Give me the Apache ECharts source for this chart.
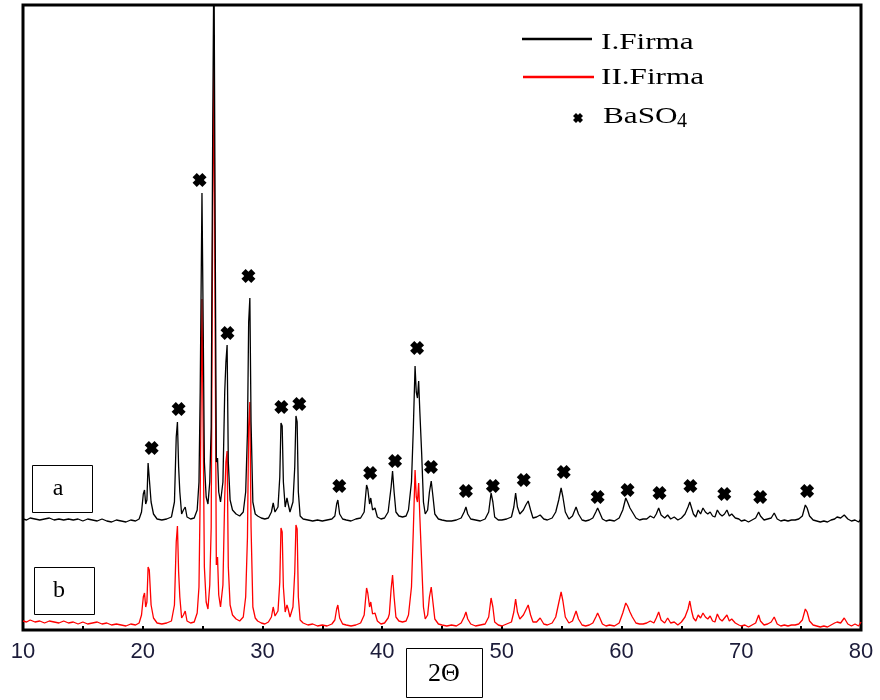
<!DOCTYPE html>
<html>
<head>
<meta charset="utf-8">
<script src="https://cdn.jsdelivr.net/npm/echarts@6/dist/echarts.min.js"></script>
<style>
  html, body { margin: 0; padding: 0; background: #fff; }
  #chart { width: 880px; height: 700px; }
</style>
</head>
<body>
<div id="chart"></div>
<script>
// Diffraction angle (2θ, degrees)
const twoTheta = [
  10.0,10.3,10.6,11.0,11.4,11.8,12.2,12.6,13.0,13.4,13.8,14.2,14.6,15.0,15.4,15.8,16.2,16.6,17.0,17.4,17.8,18.2,18.6,19.0,19.4,19.7,19.9,
  20.05,20.15,20.25,20.35,20.45,20.55,20.7,20.9,21.2,21.6,22.0,22.4,22.65,22.8,22.9,23.0,23.1,23.25,23.4,23.55,23.7,24.0,24.3,24.55,24.7,24.8,24.95,
  25.05,25.15,25.3,25.45,25.6,25.72,25.85,25.95,26.05,26.15,26.25,26.35,26.5,26.7,26.85,26.95,27.05,27.15,27.3,27.5,27.8,28.1,28.4,28.6,28.75,28.85,28.95,
  29.05,29.2,29.4,29.6,29.9,30.2,30.5,30.75,30.9,31.05,31.3,31.45,31.55,31.65,31.75,31.9,32.05,32.15,32.3,32.55,32.7,32.8,32.9,33.0,33.15,33.4,33.8,
  34.2,34.6,35.0,35.4,35.8,36.05,36.2,36.3,36.45,36.7,37.0,37.4,37.8,38.2,38.5,38.7,38.8,38.95,39.05,39.2,39.4,39.6,39.9,40.2,40.5,40.6,40.75,40.87,
  41.0,41.15,41.4,41.7,42.0,42.2,42.45,42.6,42.75,42.85,42.95,43.05,43.15,43.3,43.45,43.6,43.8,43.95,44.1,44.25,44.4,44.7,45.0,45.4,45.8,46.2,46.6,46.85,
  47.0,47.15,47.4,47.8,48.2,48.6,48.9,49.1,49.25,49.4,49.7,50.0,50.4,50.8,51.0,51.15,51.3,51.5,51.8,52.0,52.2,52.4,52.6,52.9,53.2,53.5,53.8,
  54.2,54.5,54.75,54.95,55.1,55.3,55.6,55.9,56.2,56.4,56.7,57.0,57.3,57.6,57.85,58.0,58.15,58.4,58.7,59.0,59.4,59.8,60.1,60.35,60.5,60.7,60.9,
  61.2,61.5,61.8,62.1,62.4,62.7,62.9,63.1,63.3,63.6,63.85,64.1,64.4,64.7,65.0,65.3,65.55,65.7,65.85,66.0,66.2,66.4,66.6,66.8,67.0,67.2,67.4,67.6,67.8,
  68.0,68.2,68.4,68.6,68.8,69.0,69.2,69.5,69.8,70.0,70.3,70.6,70.9,71.2,71.45,71.6,71.9,72.2,72.5,72.75,73.0,73.3,73.6,73.9,74.2,74.5,74.8,
  75.1,75.35,75.5,75.7,76.0,76.3,76.6,76.9,77.2,77.5,77.8,78.0,78.3,78.6,78.9,79.2,79.5,79.8,80.0
];

// Intensity (a.u.) of sample a, I.Firma
const intensityI = [
  3,2,4,3,2,3,4,2,3,2,3,2,3,1,3,2,1,3,1,0,2,1,0,2,1,3,10,
  28,32,18,22,59,58,20,8,3,2,3,5,20,85,100,55,30,8,12,15,5,3,4,12,40,129,329,
  200,60,25,18,40,95,400,575,300,60,64,30,20,40,130,160,177,60,22,12,8,6,10,30,90,200,224,
  100,20,8,6,4,3,4,10,19,10,15,45,99,96,40,15,24,18,10,20,55,106,100,30,6,3,2,
  1,2,1,2,3,6,18,22,8,3,2,1,3,4,10,37,33,18,24,12,14,5,3,4,10,12,35,51,
  30,10,6,5,6,12,40,92,156,130,124,141,110,69,20,8,12,30,41,25,8,3,2,1,1,2,4,10,
  15,8,3,2,1,3,10,29,20,5,2,2,3,5,15,29,15,8,12,17,21,12,4,5,7,3,2,
  4,10,22,34,25,10,3,6,15,8,2,1,2,4,10,14,10,3,1,2,1,4,12,24,20,14,10,
  4,2,3,3,6,4,8,14,7,4,7,3,5,2,4,8,15,20,14,8,5,12,8,14,10,8,10,6,5,
  12,8,6,8,12,6,8,4,3,1,2,0,2,4,10,6,2,3,4,9,3,1,2,1,2,2,3,
  6,17,14,6,2,1,0,1,0,2,3,5,4,7,3,1,2,0,3
];

// Intensity (a.u.) of sample b, II.Firma
const intensityII = [
  6,5,7,5,6,4,6,5,4,6,4,5,3,5,3,4,5,3,4,2,3,2,1,3,2,4,12,
  30,34,20,25,60,57,22,9,4,3,4,6,22,85,101,55,30,9,12,16,6,4,5,14,40,130,328,
  200,60,25,18,42,100,420,569,300,62,70,32,20,42,130,165,176,60,22,12,8,6,10,30,90,200,225,
  100,20,9,6,4,3,5,10,20,11,16,45,99,95,40,15,22,18,10,20,55,102,98,30,7,4,2,
  3,1,2,1,3,7,18,22,9,3,2,1,2,4,12,39,34,20,25,13,14,6,3,4,9,13,38,52,
  30,10,6,5,6,12,40,95,157,130,125,144,110,65,20,8,12,30,40,24,8,3,2,1,2,1,4,10,
  15,8,3,1,2,3,10,29,20,5,2,1,3,5,15,28,15,8,12,17,22,12,5,5,9,3,2,
  4,10,24,35,26,10,4,6,16,8,2,1,2,4,10,14,10,3,1,2,1,4,14,24,21,15,10,
  4,3,3,4,6,4,9,15,7,4,9,4,5,2,5,10,18,26,16,9,6,12,9,14,10,8,11,6,5,
  13,8,6,9,12,6,8,4,2,1,2,0,2,4,12,6,2,3,5,10,3,1,2,1,2,2,3,
  7,18,15,6,2,1,0,1,0,2,4,5,4,9,3,1,3,1,5
];

// BaSO4 reflections: angle and height of the marker placed above each peak
const baso4Theta = [20.75,23.0,24.75,27.08,28.83,31.58,33.08,36.42,39.0,41.08,42.92,44.08,47.0,49.25,51.83,55.17,58.0,60.5,63.17,65.75,68.58,71.58,75.5];
const baso4Level = [182,221,450,297,354,223,226,144,157,169,282,163,139,144,150,158,133,140,137,144,136,133,139];

// Axis ticks (labels every 10°)
const xTicks = [10, 20, 30, 40, 50, 60, 70, 80];

// Vertical stacking offsets for the two patterns
const offsetI = 108;
const offsetII = 3;

// heavy cross used for the BaSO4 reflections
const crossPath = 'path://M0,3 L3,0 L5,2 L7,0 L10,3 L8,5 L10,7 L7,10 L5,8 L3,10 L0,7 L2,5 Z';
const crossPoints = [[0,3],[3,0],[5,2],[7,0],[10,3],[8,5],[10,7],[7,10],[5,8],[3,10],[0,7],[2,5]];

const seriesI = twoTheta.map((t, i) => [t, intensityI[i] + offsetI]);
const seriesII = twoTheta.map((t, i) => [t, intensityII[i] + offsetII]);
const markers = baso4Theta.map((t, i) => [t, baso4Level[i]]);

const serif = '"Liberation Serif", "Times New Roman", serif';

const chart = echarts.init(document.getElementById('chart'), null, { renderer: 'canvas' });
chart.setOption({
  animation: false,
  backgroundColor: '#fff',
  grid: {
    left: 23, right: 19, top: 5, bottom: 70,
    show: true, borderColor: '#000', borderWidth: 3, backgroundColor: 'transparent'
  },
  xAxis: {
    type: 'value', min: 10, max: 80, interval: 5,
    axisLine: { show: false },
    axisTick: { show: true, inside: true, length: 4, lineStyle: { color: '#000', width: 2 } },
    axisLabel: {
      formatter: v => (xTicks.indexOf(v) >= 0 ? String(v) : ''),
      fontSize: 22, fontFamily: '"Liberation Sans", Arial, sans-serif',
      color: '#1c1c3a', margin: 11
    },
    splitLine: { show: false }
  },
  yAxis: { type: 'value', min: 0, max: 625, show: false },
  series: [
    {
      name: 'II.Firma', type: 'line', data: seriesII, showSymbol: false, silent: true,
      lineStyle: { color: '#ff0000', width: 1.3 }, z: 2
    },
    {
      name: 'I.Firma', type: 'line', data: seriesI, showSymbol: false, silent: true,
      lineStyle: { color: '#000000', width: 1.3 }, z: 3
    },
    {
      name: 'BaSO4', type: 'scatter', data: markers, symbol: crossPath, symbolSize: 14,
      itemStyle: { color: '#000', opacity: 1 }, silent: true, z: 4
    }
  ],
  graphic: [
    // legend
    { type: 'line', shape: { x1: 522, y1: 39, x2: 592, y2: 39 }, style: { stroke: '#000', lineWidth: 2.5 } },
    { type: 'text', x: 601, y: 43, scaleX: 1.3, style: { text: 'I.Firma', font: '24px ' + serif, fill: '#000', textVerticalAlign: 'middle' } },
    { type: 'line', shape: { x1: 523, y1: 77, x2: 594, y2: 77 }, style: { stroke: '#ff0000', lineWidth: 2.5 } },
    { type: 'text', x: 601, y: 78, scaleX: 1.3, style: { text: 'II.Firma', font: '24px ' + serif, fill: '#000', textVerticalAlign: 'middle' } },
    { type: 'polygon', x: 573, y: 113, shape: { points: crossPoints }, style: { fill: '#000' } },
    { type: 'text', x: 603, y: 117, scaleX: 1.3, style: { text: 'BaSO', font: '24px ' + serif, fill: '#000', textVerticalAlign: 'middle' } },
    { type: 'text', x: 677, y: 122, style: { text: '4', font: '20px ' + serif, fill: '#000', textVerticalAlign: 'middle' } },
    // sample labels
    { type: 'rect', shape: { x: 32.5, y: 465.5, width: 60, height: 47 }, style: { fill: '#fff', stroke: '#000', lineWidth: 1 } },
    { type: 'text', x: 58, y: 489, style: { text: 'a', font: '24px ' + serif, fill: '#000', textAlign: 'center', textVerticalAlign: 'middle' } },
    { type: 'rect', shape: { x: 34.5, y: 567.5, width: 60, height: 47 }, style: { fill: '#fff', stroke: '#000', lineWidth: 1 } },
    { type: 'text', x: 59, y: 591, style: { text: 'b', font: '24px ' + serif, fill: '#000', textAlign: 'center', textVerticalAlign: 'middle' } },
    // axis title
    { type: 'rect', shape: { x: 406.5, y: 648.5, width: 76, height: 49 }, style: { fill: '#fff', stroke: '#000', lineWidth: 1 } },
    { type: 'text', x: 444, y: 674, style: { text: '2Θ', font: '26px ' + serif, fill: '#000', textAlign: 'center', textVerticalAlign: 'middle' } }
  ]
});
</script>
</body>
</html>
